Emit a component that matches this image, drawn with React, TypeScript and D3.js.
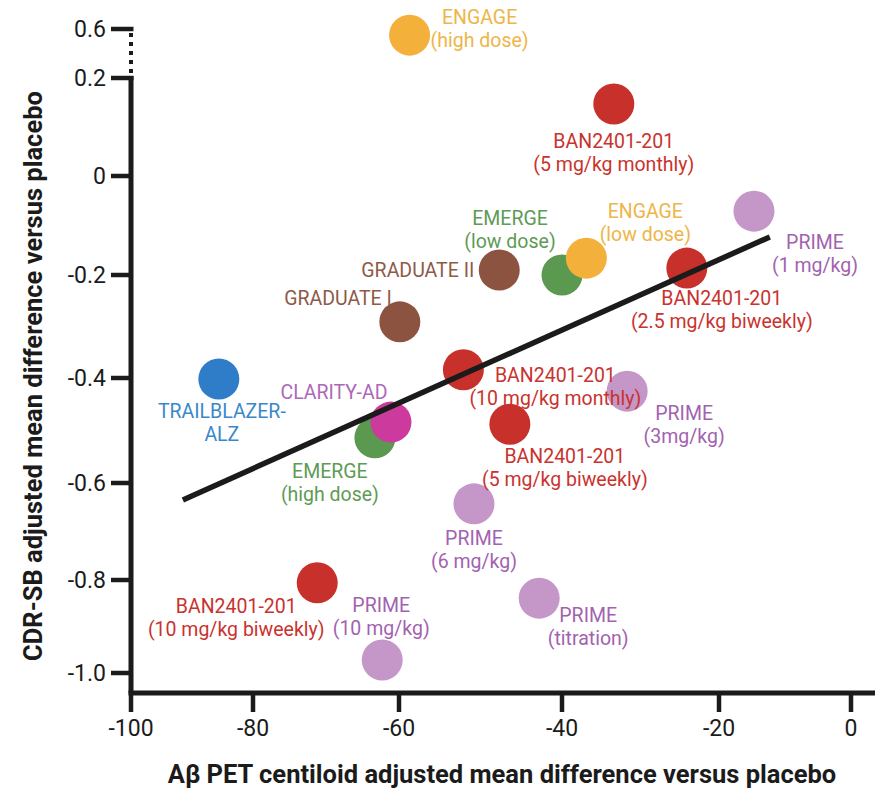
import React, { useEffect, useRef } from 'react';
import * as d3 from 'd3';

// tick values on both axes (y axis is broken between 0.2 and 0.6)
const xTicks = [-100, -80, -60, -40, -20, 0];
const yTicks = [-1.0, -0.8, -0.6, -0.4, -0.2, 0, 0.2, 0.6];
const yTickLabels = ['-1.0', '-0.8', '-0.6', '-0.4', '-0.2', '0', '0.2', '0.6'];

// one entry per trial arm
const programme = [
    'ENGAGE', 'BAN', 'PRIME', 'EMERGE', 'ENGAGE', 'GRADUATE', 'BAN', 'GRADUATE', 'TRAILBLAZER',
    'BAN', 'PRIME', 'EMERGE', 'CLARITY', 'BAN', 'PRIME', 'BAN', 'PRIME', 'PRIME',
];
const labelLines = [
    ['ENGAGE', '(high dose)'],
    ['BAN2401-201', '(5 mg/kg monthly)'],
    ['PRIME', '(1 mg/kg)'],
    ['EMERGE', '(low dose)'],
    ['ENGAGE', '(low dose)'],
    ['GRADUATE II'],
    ['BAN2401-201', '(2.5 mg/kg biweekly)'],
    ['GRADUATE I'],
    ['TRAILBLAZER-', 'ALZ'],
    ['BAN2401-201', '(10 mg/kg monthly)'],
    ['PRIME', '(3mg/kg)'],
    ['EMERGE', '(high dose)'],
    ['CLARITY-AD'],
    ['BAN2401-201', '(5 mg/kg biweekly)'],
    ['PRIME', '(6 mg/kg)'],
    ['BAN2401-201', '(10 mg/kg biweekly)'],
    ['PRIME', '(10 mg/kg)'],
    ['PRIME', '(titration)'],
];
const centiloidDiff = [
    -58.7, -33.4, -14.7, -40.0, -36.9, -47.7, -24.1, -59.9, -85.6,
    -52.1, -31.7, -63.3, -61.1, -46.4, -50.8, -71.2, -62.3, -42.8,
];
const cdrsbDiff = [
    0.55, 0.147, -0.071, -0.2, -0.166, -0.19, -0.186, -0.291, -0.402,
    -0.384, -0.425, -0.514, -0.484, -0.488, -0.643, -0.806, -0.972, -0.839,
];

// fitted regression line end points
const fitX = [-91.5, -12.3];
const fitY = [-0.635, -0.123];

// label placement relative to the dot: dx, first-line dy, text-anchor
const labelPlace: [number, number, string][] = [
    [70, -11, 'middle'],
    [0, 44, 'middle'],
    [61, 38, 'middle'],
    [-52, -50, 'middle'],
    [59, -40, 'middle'],
    [-25, 7, 'end'],
    [35, 37, 'middle'],
    [-8, -17, 'end'],
    [3, 39, 'middle'],
    [92, 12, 'middle'],
    [57, 29, 'middle'],
    [-45, 40, 'middle'],
    [-57, -23, 'middle'],
    [55, 39, 'middle'],
    [0, 41, 'middle'],
    [-81, 30, 'middle'],
    [-1, -48, 'middle'],
    [49, 24, 'middle'],
];

const dotColor: Record<string, string> = {
    ENGAGE: '#F3B03B', BAN: '#C8302C', PRIME: '#C596C8', EMERGE: '#5B9850',
    GRADUATE: '#8C5440', TRAILBLAZER: '#2F7DC8', CLARITY: '#CC3A9E',
};
const textColor: Record<string, string> = {
    ENGAGE: '#EEB548', BAN: '#C9332E', PRIME: '#A262B0', EMERGE: '#5E9B55',
    GRADUATE: '#8E5A48', TRAILBLAZER: '#3A88CA', CLARITY: '#AD68B8',
};

const App = () => {
    const chartRef = useRef<SVGSVGElement>(null);

    useEffect(() => {
        document.body.style.margin = '0';
        const svg = d3.select(chartRef.current);
        svg.selectAll('*').remove();

        const font = 'Roboto, "Noto Sans", sans-serif';
        const ink = '#1b1b1b';

        // the original axis ticks are not evenly spaced, so piecewise scales
        const x = d3.scaleLinear().domain(xTicks).range([131, 253, 399, 562, 719, 851]);
        const y = d3.scaleLinear().domain(yTicks).range([673, 580, 483, 378, 275, 176, 78, 29]);

        const axisY = 693;
        const axisX = 131;

        // x axis
        svg.append('line')
            .attr('x1', axisX - 2.5).attr('x2', 875)
            .attr('y1', axisY).attr('y2', axisY)
            .attr('stroke', ink).attr('stroke-width', 5);
        svg.selectAll('.xtick')
            .data(xTicks)
            .enter()
            .append('line')
            .attr('x1', d => x(d)).attr('x2', d => x(d))
            .attr('y1', axisY).attr('y2', axisY + 19)
            .attr('stroke', ink).attr('stroke-width', 4.5);
        svg.selectAll('.xlabel')
            .data(xTicks)
            .enter()
            .append('text')
            .attr('x', d => x(d)).attr('y', 736)
            .attr('text-anchor', 'middle')
            .attr('font-family', font).attr('font-size', 23)
            .attr('fill', ink)
            .text(d => String(d));

        // y axis, solid below 0.2, dotted across the break
        svg.append('line')
            .attr('x1', axisX).attr('x2', axisX)
            .attr('y1', y(0.2) - 2).attr('y2', axisY)
            .attr('stroke', ink).attr('stroke-width', 5);
        svg.append('line')
            .attr('x1', axisX).attr('x2', axisX)
            .attr('y1', y(0.6) + 4).attr('y2', y(0.2) - 4)
            .attr('stroke', ink).attr('stroke-width', 4)
            .attr('stroke-dasharray', '4,5');
        svg.selectAll('.ytick')
            .data(yTicks)
            .enter()
            .append('line')
            .attr('x1', axisX - 20).attr('x2', d => d >= 0.2 ? axisX + 2.5 : axisX)
            .attr('y1', d => y(d)).attr('y2', d => y(d))
            .attr('stroke', ink).attr('stroke-width', 4.5);
        svg.selectAll('.ylabel')
            .data(yTicks)
            .enter()
            .append('text')
            .attr('x', 106).attr('y', d => y(d))
            .attr('dy', '0.36em')
            .attr('text-anchor', 'end')
            .attr('font-family', font).attr('font-size', 23)
            .attr('fill', ink)
            .text((d, i) => yTickLabels[i]);

        // axis titles
        svg.append('text')
            .attr('x', 502).attr('y', 783)
            .attr('text-anchor', 'middle')
            .attr('font-family', font).attr('font-size', 25.5).attr('font-weight', 'bold')
            .attr('fill', ink)
            .text('Aβ PET centiloid adjusted mean difference versus placebo');
        svg.append('text')
            .attr('transform', 'translate(42, 376) rotate(-90)')
            .attr('text-anchor', 'middle')
            .attr('font-family', font).attr('font-size', 25.5).attr('font-weight', 'bold')
            .attr('fill', ink)
            .text('CDR-SB adjusted mean difference versus placebo');

        const idx = d3.range(programme.length);

        // dots
        svg.selectAll('.dot')
            .data(idx)
            .enter()
            .append('circle')
            .attr('cx', i => x(centiloidDiff[i]))
            .attr('cy', i => y(cdrsbDiff[i]))
            .attr('r', 20.5)
            .attr('fill', i => dotColor[programme[i]]);

        // regression line
        svg.append('line')
            .attr('x1', x(fitX[0])).attr('y1', y(fitY[0]))
            .attr('x2', x(fitX[1])).attr('y2', y(fitY[1]))
            .attr('stroke', ink).attr('stroke-width', 5.5);

        // labels
        const labels = svg.selectAll('.lab')
            .data(idx)
            .enter()
            .append('text')
            .attr('font-family', font).attr('font-size', 19.5)
            .attr('text-anchor', i => labelPlace[i][2])
            .attr('fill', i => textColor[programme[i]]);
        labels.each(function (i) {
            const cx = x(centiloidDiff[i]) + labelPlace[i][0];
            const cy = y(cdrsbDiff[i]) + labelPlace[i][1];
            d3.select(this).selectAll('tspan')
                .data(labelLines[i])
                .enter()
                .append('tspan')
                .attr('x', cx)
                .attr('y', (d, k) => cy + k * 23)
                .text(d => d);
        });
    }, []);

    return (
        <svg ref={chartRef} width={875} height={789} style={{ display: 'block', background: '#fff' }} />
    );
};

export default App;
